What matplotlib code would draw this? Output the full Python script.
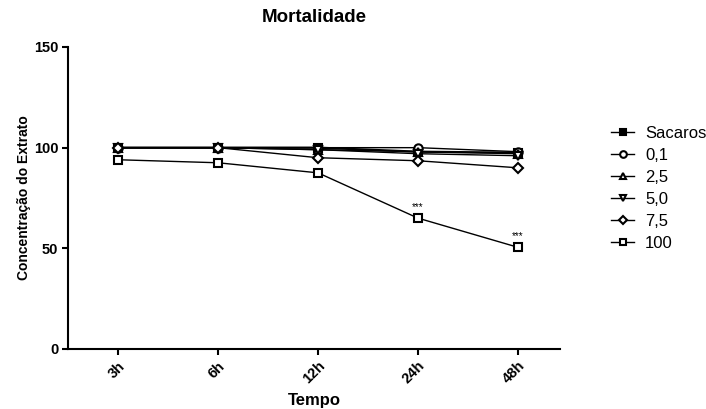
import matplotlib.pyplot as plt
import numpy as np

plt.rcParams['font.family'] = ['Liberation Sans', 'DejaVu Sans']

tempos = ["3h", "6h", "12h", "24h", "48h"]
sacaros = [100, 100, 100, 98, 97.5]
c01 = [100, 100, 100, 100, 98]
c25 = [100, 100, 99, 98, 97]
c50 = [100, 100, 99, 97, 96]
c75 = [100, 100, 95, 93.5, 90]
c100 = [94, 92.5, 87.5, 65, 50.5]
sig_labels = ["", "", "", "***", "***"]

series = [
    ("Sacaros", sacaros, dict(marker="s", mfc="black", lw=1.6, ms=6)),
    ("0,1", c01, dict(marker="o", mfc="white", lw=1.0, ms=6)),
    ("2,5", c25, dict(marker="^", mfc="white", lw=1.0, ms=6)),
    ("5,0", c50, dict(marker="v", mfc="white", lw=1.0, ms=6)),
    ("7,5", c75, dict(marker="D", mfc="white", lw=1.0, ms=5)),
    ("100", c100, dict(marker="s", mfc="white", lw=1.0, ms=6)),
]

fig = plt.figure(figsize=(7.06, 4.09), dpi=100)
ax = fig.add_axes([68/706, 1-349/409, (560-68)/706, (349-47)/409])
x = np.arange(len(tempos))

for name, vals, st in series:
    ax.plot(x, vals, color="black", mec="black", mew=1.5, label=name, **st)

for xi, v, s in zip(x, c100, sig_labels):
    if s:
        ax.text(xi, v + 3, s, ha="center", va="bottom", fontsize=7)

ax.set_xlim(-0.5, 4.42)
ax.set_ylim(0, 150)
ax.set_yticks([0, 50, 100, 150])
ax.set_xticks(x)
ax.set_xticklabels(tempos, rotation=45, ha="right", rotation_mode="anchor")
for lab in ax.get_xticklabels() + ax.get_yticklabels():
    lab.set_fontweight("bold")
    lab.set_fontsize(10.5)
ax.spines["top"].set_visible(False)
ax.spines["right"].set_visible(False)
ax.spines["left"].set_linewidth(1.5)
ax.spines["bottom"].set_linewidth(1.5)
ax.tick_params(width=1.5, length=4, pad=3)

ax.set_xlabel("Tempo", fontweight="bold", fontsize=12, labelpad=5)
ax.set_ylabel("Concentração do Extrato", fontweight="bold", fontsize=10, labelpad=2)
ax.set_title("Mortalidade", fontweight="bold", fontsize=13.5, pad=18)

leg = fig.legend(loc="upper left", bbox_to_anchor=(611/706, 1-126/409), frameon=False,
                 fontsize=12, handlelength=1.4, handletextpad=0.65, labelspacing=0.42,
                 markerscale=0.8, borderpad=0, borderaxespad=0)
for h in leg.get_lines():
    h.set_linewidth(1.0)

fig.savefig("out.png", dpi=100)
